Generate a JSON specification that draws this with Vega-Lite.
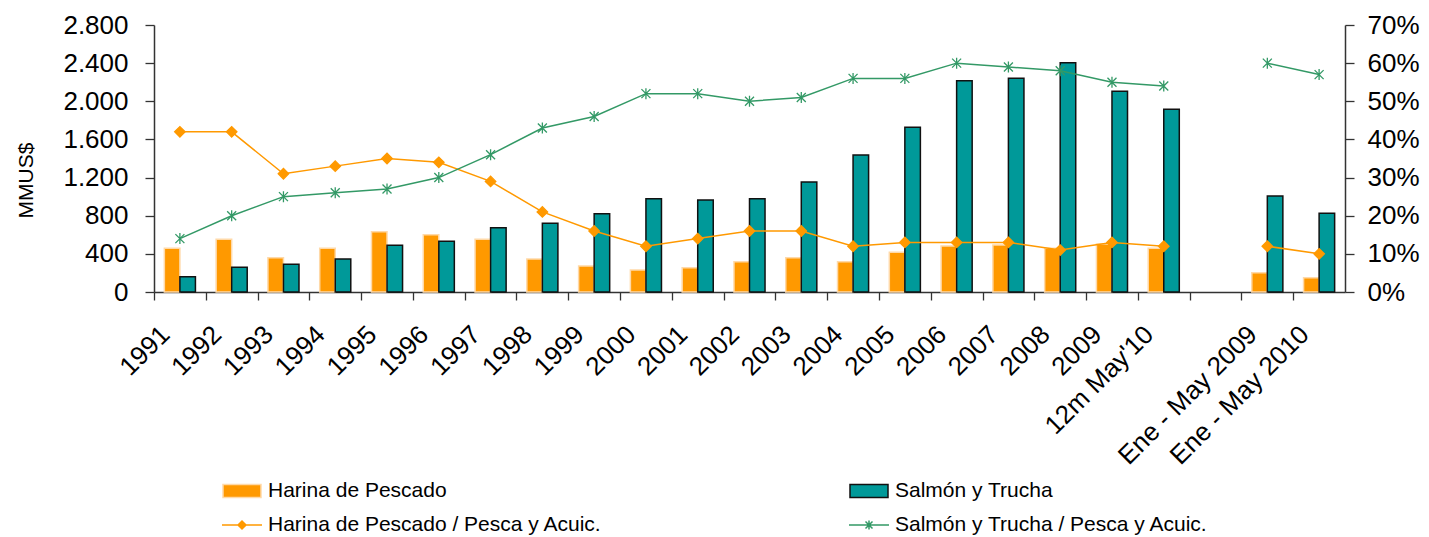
{
  "$schema": "https://vega.github.io/schema/vega-lite/v6.json",
  "width": 1191,
  "height": 267,
  "autosize": {"type": "none"},
  "padding": {"left": 154, "top": 25, "right": 84, "bottom": 245},
  "background": "white",
  "config": {
    "view": {"stroke": null},
    "font": "Liberation Sans",
    "axis": {
      "domainColor": "#333333",
      "tickColor": "#333333",
      "domainWidth": 1.5,
      "tickWidth": 1.3,
      "labelFont": "Liberation Sans",
      "labelFontSize": 26,
      "labelColor": "#000000",
      "grid": false,
      "titleFont": "Liberation Sans",
      "titleFontWeight": "normal",
      "titleColor": "#000000"
    }
  },
  "data": {
    "values": [
      {"cat": "1991", "seg": "a", "harina": 458, "salmon": 160, "pct_harina": 0.42, "pct_salmon": 0.14},
      {"cat": "1992", "seg": "a", "harina": 553, "salmon": 259, "pct_harina": 0.42, "pct_salmon": 0.20},
      {"cat": "1993", "seg": "a", "harina": 360, "salmon": 290, "pct_harina": 0.31, "pct_salmon": 0.25},
      {"cat": "1994", "seg": "a", "harina": 458, "salmon": 346, "pct_harina": 0.33, "pct_salmon": 0.26},
      {"cat": "1995", "seg": "a", "harina": 632, "salmon": 490, "pct_harina": 0.35, "pct_salmon": 0.27},
      {"cat": "1996", "seg": "a", "harina": 601, "salmon": 532, "pct_harina": 0.34, "pct_salmon": 0.30},
      {"cat": "1997", "seg": "a", "harina": 553, "salmon": 674, "pct_harina": 0.29, "pct_salmon": 0.36},
      {"cat": "1998", "seg": "a", "harina": 346, "salmon": 720, "pct_harina": 0.21, "pct_salmon": 0.43},
      {"cat": "1999", "seg": "a", "harina": 273, "salmon": 821, "pct_harina": 0.16, "pct_salmon": 0.46},
      {"cat": "2000", "seg": "a", "harina": 231, "salmon": 978, "pct_harina": 0.12, "pct_salmon": 0.52},
      {"cat": "2001", "seg": "a", "harina": 255, "salmon": 965, "pct_harina": 0.14, "pct_salmon": 0.52},
      {"cat": "2002", "seg": "a", "harina": 318, "salmon": 978, "pct_harina": 0.16, "pct_salmon": 0.50},
      {"cat": "2003", "seg": "a", "harina": 360, "salmon": 1153, "pct_harina": 0.16, "pct_salmon": 0.51},
      {"cat": "2004", "seg": "a", "harina": 318, "salmon": 1437, "pct_harina": 0.12, "pct_salmon": 0.56},
      {"cat": "2005", "seg": "a", "harina": 416, "salmon": 1727, "pct_harina": 0.13, "pct_salmon": 0.56},
      {"cat": "2006", "seg": "a", "harina": 482, "salmon": 2216, "pct_harina": 0.13, "pct_salmon": 0.60},
      {"cat": "2007", "seg": "a", "harina": 493, "salmon": 2241, "pct_harina": 0.13, "pct_salmon": 0.59},
      {"cat": "2008", "seg": "a", "harina": 458, "salmon": 2405, "pct_harina": 0.11, "pct_salmon": 0.58},
      {"cat": "2009", "seg": "a", "harina": 503, "salmon": 2105, "pct_harina": 0.13, "pct_salmon": 0.55},
      {"cat": "12m May'10", "seg": "a", "harina": 458, "salmon": 1916, "pct_harina": 0.12, "pct_salmon": 0.54},
      {"cat": "Ene - May 2009", "seg": "b", "harina": 202, "salmon": 1007, "pct_harina": 0.12, "pct_salmon": 0.60},
      {"cat": "Ene - May 2010", "seg": "b", "harina": 150, "salmon": 825, "pct_harina": 0.10, "pct_salmon": 0.57}
    ]
  },
  "layer": [
    {
      "transform": [{"fold": ["harina", "salmon"], "as": ["serie", "valor"]}],
      "mark": {"type": "bar", "strokeWidth": 1.5},
      "encoding": {
        "x": {
          "field": "cat", "type": "nominal", "sort": null,
          "scale": {"type": "band", "domain": ["1991","1992","1993","1994","1995","1996","1997","1998","1999","2000","2001","2002","2003","2004","2005","2006","2007","2008","2009","12m May'10"," ","Ene - May 2009","Ene - May 2010"], "paddingInner": 0.4, "paddingOuter": 0.2},
          "axis": {"title": null, "labelAngle": -45, "labelAlign": "right", "labelBaseline": "middle", "labelPadding": 30, "tickSize": 8, "bandPosition": 0.5, "tickOffset": -25.89, "labelOffset": 11, "labelOverlap": false, "labelLimit": 400}
        },
        "xOffset": {"field": "serie", "type": "nominal", "scale": {"domain": ["harina", "salmon"], "paddingInner": 0, "paddingOuter": 0}},
        "y": {
          "field": "valor", "type": "quantitative",
          "scale": {"domain": [0, 2800], "nice": false},
          "axis": {"values": [0,400,800,1200,1600,2000,2400,2800], "labelExpr": "replace(format(datum.value, ','), ',', '.')", "title": "MMUS$", "titleFontSize": 21, "titleAngle": 270, "titleAlign": "center", "titleBaseline": "alphabetic", "titleX": -122, "titleY": 155, "tickSize": 9, "labelPadding": 17}
        },
        "fill": {"condition": {"test": "datum.serie == 'salmon'", "value": "#009999"}, "value": "#FF9900"},
        "stroke": {"condition": {"test": "datum.serie == 'salmon'", "value": "#111111"}, "value": "#FFD9A8"}
      }
    },
    {
      "transform": [{"fold": ["pct_harina", "pct_salmon"], "as": ["serie", "pct"]}],
      "encoding": {
        "x": {"field": "cat", "type": "nominal", "sort": null, "scale": {"type": "band"}},
        "y": {
          "field": "pct", "type": "quantitative",
          "scale": {"domain": [0, 0.7], "nice": false},
          "axis": {"orient": "right", "format": ".0%", "values": [0,0.1,0.2,0.3,0.4,0.5,0.6,0.7], "title": null, "tickSize": 9, "labelPadding": 13}
        }
      },
      "layer": [
        {
          "mark": {"type": "line", "strokeWidth": 1.5},
          "encoding": {
            "stroke": {"condition": {"test": "datum.serie == 'pct_harina'", "value": "#FF9900"}, "value": "#339966"},
            "detail": [{"field": "serie", "type": "nominal"}, {"field": "seg", "type": "nominal"}]
          }
        },
        {
          "mark": {"type": "point", "filled": true, "opacity": 1, "strokeWidth": 1.3},
          "encoding": {
            "fill": {"condition": {"test": "datum.serie == 'pct_harina'", "value": "#FF9900"}, "value": "#339966"},
            "shape": {"condition": {"test": "datum.serie == 'pct_harina'", "value": "diamond"}, "value": "M-0.9,-0.9L0.9,0.9M-0.9,0.9L0.9,-0.9M0,-1.1V1.1"},
            "size": {"condition": {"test": "datum.serie == 'pct_harina'", "value": 110}, "value": 100},
            "stroke": {"condition": {"test": "datum.serie == 'pct_harina'", "value": "#FF9900"}, "value": "#339966"}
          }
        }
      ]
    },
    {
      "transform": [{"fold": ["harina", "salmon", "pct_harina", "pct_salmon"], "as": ["serie", "valor"]}, {"filter": "false"}],
      "mark": {"type": "point", "filled": true, "opacity": 1, "strokeWidth": 1.5},
      "encoding": {
        "color": {"field": "serie", "type": "nominal",
          "scale": {"domain": ["harina", "pct_harina", "salmon", "pct_salmon"], "range": ["#FF9900", "#FF9900", "#009999", "#339966"]},
          "legend": {
            "title": null, "orient": "none", "legendX": 77, "legendY": 455, "columns": 2,
            "symbolSize": 400, "symbolStrokeWidth": 1.5, "symbolOpacity": 1,
            "labelFontSize": 21, "labelFont": "Liberation Sans", "labelColor": "#000000",
            "labelOffset": 15, "labelLimit": 600, "rowPadding": 13, "columnPadding": 244, "padding": 0,
            "labelExpr": "datum.value == 'harina' ? 'Harina de Pescado' : datum.value == 'salmon' ? 'Salmón y Trucha' : datum.value == 'pct_harina' ? 'Harina de Pescado / Pesca y Acuic.' : 'Salmón y Trucha / Pesca y Acuic.'"
          }
        },
        "stroke": {"field": "serie", "type": "nominal",
          "scale": {"domain": ["harina", "pct_harina", "salmon", "pct_salmon"], "range": ["#FFD9A8", "#FF9900", "#111111", "#339966"]}
        },
        "shape": {"field": "serie", "type": "nominal",
          "scale": {"domain": ["harina", "pct_harina", "salmon", "pct_salmon"], "range": ["M-1.9,-0.65H1.9V0.65H-1.9Z", "M-2,0H2M-0.4,0L0,-0.4L0.4,0L0,0.4Z", "M-1.9,-0.65H1.9V0.65H-1.9Z", "M-2,0H2M-0.35,-0.35L0.35,0.35M-0.35,0.35L0.35,-0.35M0,-0.45V0.45"]}
        }
      }
    }
  ],
  "resolve": {"scale": {"y": "independent"}}
}
